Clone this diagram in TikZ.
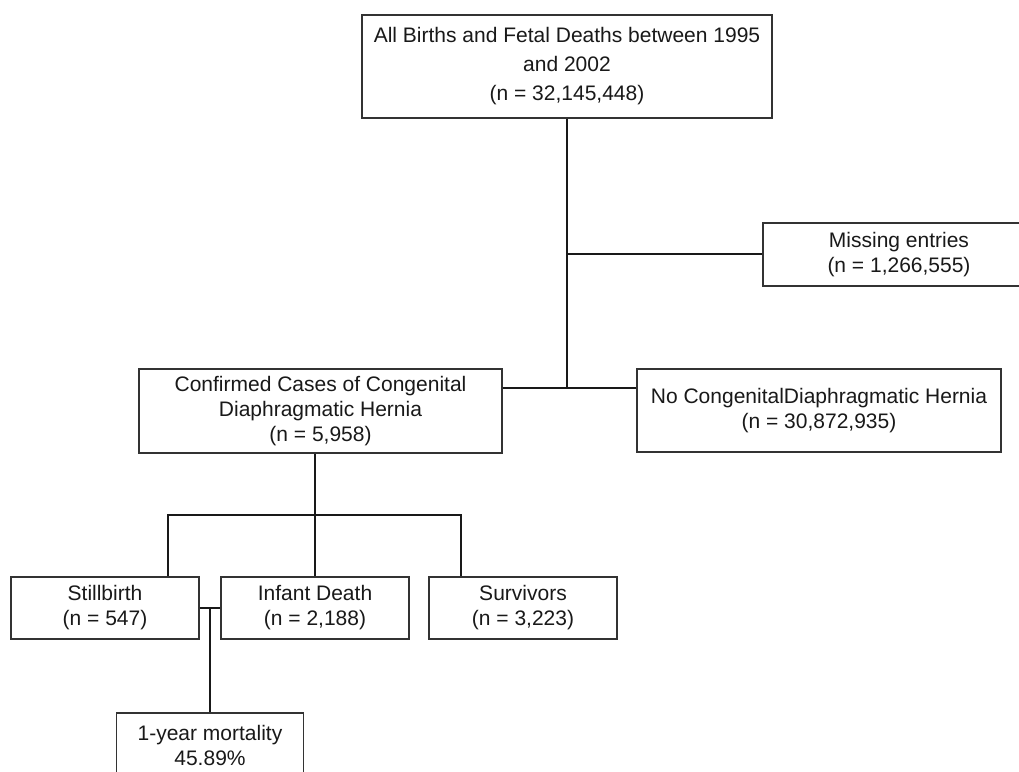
\documentclass[tikz,border=0pt]{standalone}
\usepackage{fontspec}
\setmainfont{Liberation Sans}
\begin{document}
\begin{tikzpicture}[x=1pt,y=-1pt,
  box/.style={draw=black!80, line width=1.2pt, text=black!90, inner sep=0pt, align=center,
    font=\fontsize{21}{25}\selectfont, anchor=center},
  link/.style={draw=black!90, line width=1.8pt}]
\useasboundingbox (0,0) rectangle (1019,771);
\fill[white] (0,0) rectangle (1019,771);
\clip (0,0) rectangle (1019,771);
\node[box, minimum width=410pt, minimum height=103pt, font=\fontsize{21}{29}\selectfont] (top) at (567,66.5)
  {All Births and Fetal Deaths between 1995\\and 2002\\(n = 32,145,448)};
\node[box, minimum width=272pt, minimum height=63pt] (missing) at (899,254.5)
  {Missing entries\\(n = 1,266,555)};
\node[box, minimum width=364pt, minimum height=83pt] (noc) at (819,410.5)
  {No CongenitalDiaphragmatic Hernia\\(n = 30,872,935)};
\node[box, minimum width=363pt, minimum height=84pt] (conf) at (320.5,411)
  {Confirmed Cases of Congenital\\Diaphragmatic Hernia\\(n = 5,958)};
\node[box, minimum width=188pt, minimum height=62pt] (still) at (105,608)
  {Stillbirth\\(n = 547)};
\node[box, minimum width=188pt, minimum height=62pt] (infant) at (315,608)
  {Infant Death\\(n = 2,188)};
\node[box, minimum width=188pt, minimum height=62pt] (surv) at (523,608)
  {Survivors\\(n = 3,223)};
\node[box, minimum width=187pt, minimum height=64pt] (mort) at (210,745)
  {1-year mortality\\45.89\%};
\coordinate (j1) at (567,254);
\coordinate (j2) at (567,388);
\coordinate (c1) at (315,515);
\draw[link] (top.south) -- (j2);
\draw[link] (j1) -- (missing.west |- j1);
\draw[link] (conf.east |- j2) -- (noc.west |- j2);
\draw[link] (conf.south -| infant.north) -- (infant.north);
\draw[link] ([xshift=63pt]still.north) |- (c1) -| ([xshift=-62pt]surv.north);
\draw[link] (still.east) -- (infant.west);
\draw[link] (mort.north) -- (mort.north |- still.east);
\end{tikzpicture}
\end{document}
